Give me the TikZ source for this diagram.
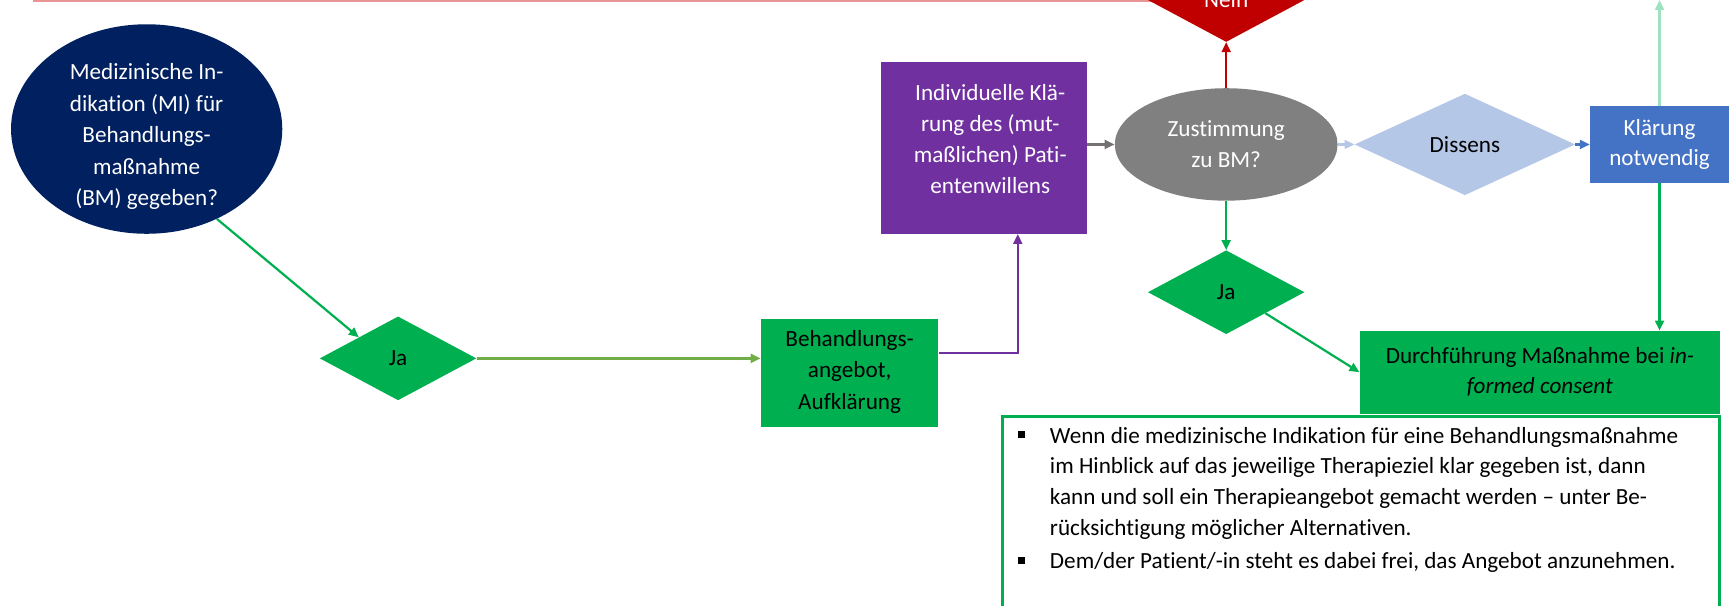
\documentclass[tikz,border=0pt]{standalone}
\usepackage{fontspec}
\setmainfont{Carlito}[Ligatures=NoCommon]
\usetikzlibrary{shapes.geometric,arrows.meta}
\definecolor{navy}{HTML}{002060}
\definecolor{fgreen}{HTML}{00B050}
\definecolor{lgreen}{HTML}{70AD47}
\definecolor{fpurple}{HTML}{7030A0}
\definecolor{fgray}{HTML}{808080}
\definecolor{agray}{HTML}{767171}
\definecolor{fred}{HTML}{C00000}
\definecolor{pinkline}{HTML}{E89494}
\definecolor{lblue}{HTML}{B4C7E7}
\definecolor{fblue}{HTML}{4472C4}
\definecolor{mint}{HTML}{9FE2BF}
\newcommand\bsq{\makebox[29pt][l]{\raisebox{4.5pt}{\rule{6pt}{6pt}}}}
\newcommand\indsp{\hspace*{29pt}}
\begin{document}
\begin{tikzpicture}[x=1pt,y=-1pt,
  txt/.style={inner sep=0pt, align=center, font=\fontsize{21}{28.5}\selectfont},
  boxshape/.style={rectangle, inner sep=0pt},
  dia/.style={diamond, inner sep=0pt, minimum width=142pt, minimum height=76pt, font=\fontsize{21}{28.5}\selectfont},
  arr/.style={line width=2pt, -{Triangle[length=9pt,width=8pt]}}]
\useasboundingbox (0,0) rectangle (1568,549);

% pink line at the top
\coordinate (pinkend) at (30,1);
\coordinate (pinkjoin) at (1060,1);
\draw[pinkline, line width=2.4pt] (pinkend) -- (pinkjoin);

% nodes
\node[ellipse, fill=navy, minimum width=246pt, minimum height=190pt, inner sep=0pt] (mi) at (133,117) {};
\node[txt, text=white] (mitxt) at (133,124) {Medizinische In-\\dikation (MI) für\\Behandlungs-\\maßnahme\\(BM) gegeben?};

\node[dia, fill=fgreen] (ja1) at (361,325) {Ja};

\node[boxshape, fill=fgreen, minimum width=161pt, minimum height=98pt] (beh) at (770.5,338) {};
\node[txt] (behtxt) at (770.5,337) {Behandlungs-\\angebot,\\Aufklärung};

\node[boxshape, fill=fpurple, minimum width=187pt, minimum height=156pt] (ind) at (892.5,134) {};
\node[txt, text=white, font=\fontsize{21}{28}\selectfont] (indtxt) at (898,126) {Individuelle Klä-\\rung des (mut-\\maßlichen) Pati-\\entenwillens};

\node[ellipse, fill=fgray, minimum width=202pt, minimum height=102pt, inner sep=0pt] (zu) at (1112,131) {};
\node[txt, text=white, font=\fontsize{21}{28}\selectfont] (zutxt) at (1112,131) {Zustimmung\\zu BM?};

\node[dia, fill=fred, text=white] (nein) at (1112,0) {Nein};

\node[dia, fill=lblue, minimum width=200pt, minimum height=92pt] (dis) at (1328.5,131) {Dissens};

\node[boxshape, fill=fblue, minimum width=126pt, minimum height=70pt] (kl) at (1505,131) {};
\node[txt, text=white, font=\fontsize{21}{28}\selectfont] (kltxt) at (1505,131) {Klärung\\notwendig};
\coordinate (mintend) at (1505,0);

\node[dia, fill=fgreen] (ja2) at (1112,265) {Ja};

\node[boxshape, fill=fgreen, minimum width=327pt, minimum height=75pt] (dur) at (1396.5,337.5) {};
\node[txt, font=\fontsize{21}{27.5}\selectfont] (durtxt) at (1396.5,337) {Durchführung Maßnahme bei \textit{in-}\\\textit{formed consent}};

\node[boxshape, draw=fgreen, line width=2.5pt, fill=white, minimum width=650pt, minimum height=200pt, anchor=north west] (info) at (908,376.5) {};
\node[anchor=north west, align=left, inner sep=0pt, font=\fontsize{21}{28}\selectfont] (infotxt) at (923,387) {\bsq Wenn die medizinische Indikation für eine Behandlungsmaßnahme\\
\indsp im Hinblick auf das jeweilige Therapieziel klar gegeben ist, dann\\
\indsp kann und soll ein Therapieangebot gemacht werden – unter Be-\\
\indsp rücksichtigung möglicher Alternativen.\\[2pt]
\bsq Dem/der Patient/-in steht es dabei frei, das Angebot anzunehmen.};

% connectors
\draw[arr, fgreen] (mi.-52) -- (ja1.north west);
\draw[arr, lgreen, line width=2.5pt] (ja1.east) -- (ja1.east -| beh.west);
\draw[arr, fpurple] ([yshift=18pt]beh.east) -| ([xshift=30.5pt]ind.south);
\draw[arr, agray] (zu.west -| ind.east) -- (zu.west);
\draw[arr, fred] (zu.north) -- (nein.south);
\draw[arr, lblue] (zu.east) -- (dis.west);
\draw[arr, fblue] (dis.east) -- (kl.west);
\draw[arr, mint] (kl.north) -- (mintend);
\draw[arr, fgreen] (kl.south) -- (kl.south |- dur.north);
\draw[arr, fgreen] (zu.south) -- (ja2.north);
\draw[arr, fgreen] (ja2.south east) -- (dur.west);
\end{tikzpicture}
\end{document}
